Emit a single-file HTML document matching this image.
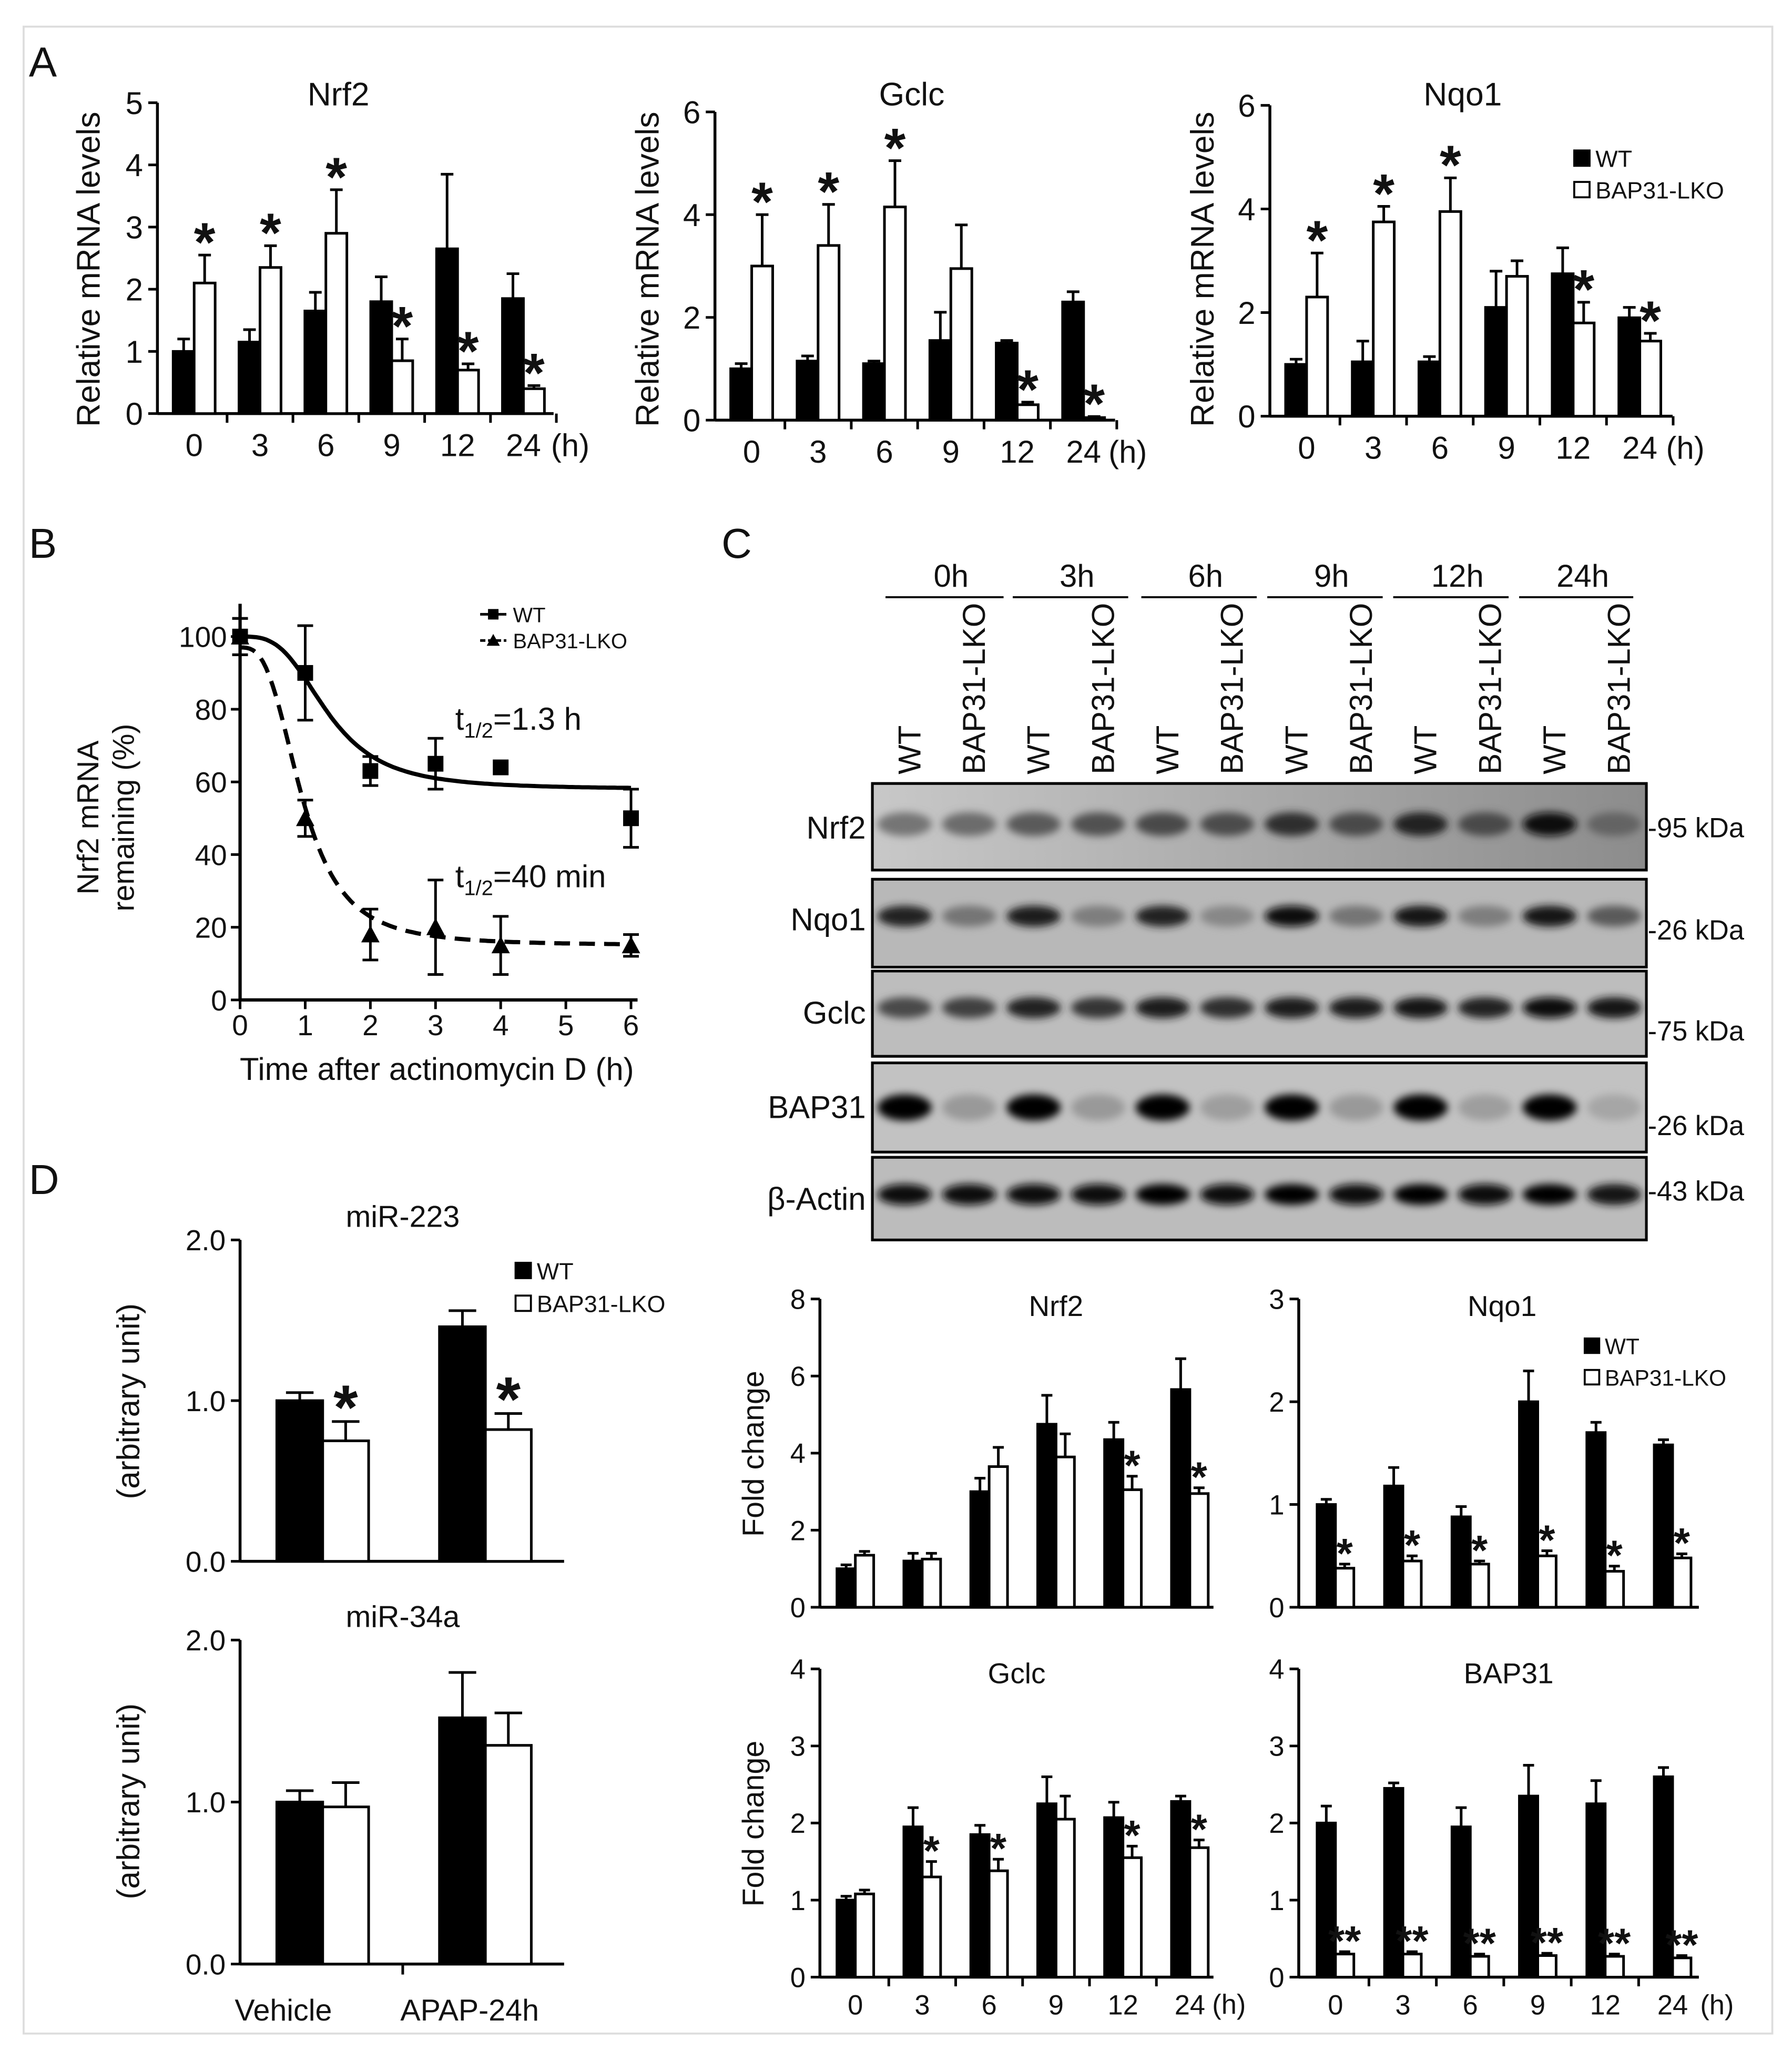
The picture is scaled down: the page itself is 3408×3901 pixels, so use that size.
<!DOCTYPE html>
<html><head><meta charset="utf-8"><style>
html,body{margin:0;padding:0;background:#fff}
svg{display:block}
text{font-family:"Liberation Sans",Arial,sans-serif;fill:#111}
</style></head><body>
<svg id="fig" xmlns="http://www.w3.org/2000/svg" width="3408" height="3901" viewBox="0 0 1366 1563">
<defs>
<filter id="blur" x="-50%" y="-50%" width="200%" height="200%"><feGaussianBlur stdDeviation="3"/></filter>
</defs>
<rect x="18" y="20" width="1333" height="1530" fill="none" stroke="#ddd" stroke-width="1.5"/>
<text x="22" y="58" font-size="32">A</text>
<text x="22" y="425" font-size="32">B</text>
<text x="550" y="425" font-size="32">C</text>
<text x="22" y="910" font-size="32">D</text>
<g id="root"></g>
</svg>
<script>
// ---- data arrays ----
const hours = ["0","3","6","9","12","24"];
const aNrf2WT = [1.0,1.15,1.65,1.8,2.65,1.85];
const aNrf2WTerr = [0.2,0.2,0.3,0.4,1.2,0.4];
const aNrf2KO = [2.1,2.35,2.9,0.85,0.7,0.4];
const aNrf2KOerr = [0.45,0.35,0.7,0.35,0.1,0.05];
const aNrf2Star = ["*","*","*","*","*","*"];
const aGclcWT = [1.0,1.15,1.1,1.55,1.5,2.3];
const aGclcWTerr = [0.1,0.1,0.05,0.55,0.05,0.2];
const aGclcKO = [3.0,3.4,4.15,2.95,0.3,0.05];
const aGclcKOerr = [1.0,0.8,0.9,0.85,0.05,0.02];
const aGclcStar = ["*","*","*","","*","*"];
const aNqo1WT = [1.0,1.05,1.05,2.1,2.75,1.9];
const aNqo1WTerr = [0.1,0.4,0.1,0.7,0.5,0.2];
const aNqo1KO = [2.3,3.75,3.95,2.7,1.8,1.45];
const aNqo1KOerr = [0.85,0.3,0.65,0.3,0.4,0.15];
const aNqo1Star = ["*","*","*","","*","*"];
const cNrf2WT = [1.0,1.2,3.0,4.75,4.35,5.65];
const cNrf2WTerr = [0.1,0.2,0.35,0.75,0.45,0.8];
const cNrf2KO = [1.35,1.25,3.65,3.9,3.05,2.95];
const cNrf2KOerr = [0.1,0.15,0.5,0.6,0.35,0.15];
const cNrf2Star = ["","","","","*","*"];
const cNqo1WT = [1.0,1.18,0.88,2.0,1.7,1.58];
const cNqo1WTerr = [0.05,0.18,0.1,0.3,0.1,0.05];
const cNqo1KO = [0.38,0.45,0.42,0.5,0.35,0.48];
const cNqo1KOerr = [0.04,0.05,0.03,0.05,0.05,0.04];
const cNqo1Star = ["*","*","*","*","*","*"];
const cGclcWT = [1.0,1.95,1.85,2.25,2.07,2.28];
const cGclcWTerr = [0.05,0.25,0.12,0.35,0.2,0.07];
const cGclcKO = [1.08,1.3,1.38,2.05,1.55,1.68];
const cGclcKOerr = [0.05,0.2,0.15,0.3,0.15,0.1];
const cGclcStar = ["","*","*","","*","*"];
const cBapWT = [2.0,2.45,1.95,2.35,2.25,2.6];
const cBapWTerr = [0.22,0.07,0.25,0.4,0.3,0.12];
const cBapKO = [0.3,0.3,0.27,0.28,0.27,0.25];
const cBapKOerr = [0.03,0.03,0.03,0.03,0.03,0.03];
const cBapStar = ["**","**","**","**","**","**"];
const dGroups = ["Vehicle","APAP-24h"];
const d223WT = [1.0,1.46];
const d223WTerr = [0.05,0.1];
const d223KO = [0.75,0.82];
const d223KOerr = [0.12,0.1];
const d223Star = ["*","*"];
const d34WT = [1.0,1.52];
const d34WTerr = [0.07,0.28];
const d34KO = [0.97,1.35];
const d34KOerr = [0.15,0.2];
const d34Star = ["",""];
const bTimes = [0,1,2,3,4,6];
const bWT = [100,90,63,65,64,50];
const bWTerr = [5,13,4,7,0,8];
const bKO = [100,50,18,20,15,15];
const bKOerr = [5,5,7,13,8,3];
const bXTicks = [0,1,2,3,4,5,6];
const bYTicks = [0,20,40,60,80,100];
const blotRows = ["Nrf2","Nqo1","Gclc","BAP31","β-Actin"];
const blotKda = ["-95 kDa","-26 kDa","-75 kDa","-26 kDa","-43 kDa"];
const blotNrf2 = [0.35,0.4,0.5,0.55,0.6,0.58,0.75,0.6,0.8,0.6,0.95,0.45];
const blotNqo1 = [0.8,0.35,0.85,0.3,0.8,0.25,0.95,0.35,0.9,0.3,0.9,0.5];
const blotGclc = [0.6,0.65,0.8,0.7,0.85,0.75,0.85,0.85,0.9,0.8,0.95,0.9];
const blotBap = [0.98,0.15,0.98,0.15,0.98,0.12,0.98,0.15,0.98,0.12,0.98,0.08];
const blotActin = [0.95,0.92,0.95,0.92,0.97,0.95,0.97,0.93,0.97,0.93,0.97,0.9];
const timeHeads = ["0h","3h","6h","9h","12h","24h"];

const NS="http://www.w3.org/2000/svg";
const root=document.getElementById('root');
function el(tag,attrs,parent,txt){const e=document.createElementNS(NS,tag);for(const k in attrs)e.setAttribute(k,attrs[k]);if(txt!==undefined)e.textContent=txt;(parent||root).appendChild(e);return e;}

function barChart(o){
  const g=el('g',{});
  
  
  const y=v=>o.y0-(v/o.ymax)*(o.y0-o.ytop);
  const fs=o.fs||22;
  const ax=el('line',{x1:o.x0,y1:o.ytop,x2:o.x0,y2:o.y0,stroke:'#000','stroke-width':2.2},g);
  
  
  const xa=el('line',{x1:o.x0,y1:o.y0,x2:o.xend,y2:o.y0,stroke:'#000','stroke-width':2.2},g);
  
  
  o.ticks.forEach(t=>{
    el('line',{x1:o.x0-7,x2:o.x0,y1:y(t),y2:y(t),stroke:'#000','stroke-width':2},g);
    const tl=el('text',{x:o.x0-11,y:y(t)+fs*0.36,'font-size':fs,'text-anchor':'end'},g,o.tickFmt?o.tickFmt(t):String(t));
    
    
  });
  const n=o.cats.length;
  o.centers.forEach((cx,i)=>{
    if(o.sepTicks){const sx=cx+(o.step/2);if(i<n-1||o.lastTick)el('line',{x1:sx,x2:sx,y1:o.y0,y2:o.y0+7,stroke:'#000','stroke-width':2},g);}
    if(o.showX){
      const tl=el('text',{x:cx,y:o.y0+fs*1.35,'font-size':fs,'text-anchor':'middle'},g,o.cats[i]);
      
      
    }
    const bw=o.bw;
    [[o.wt,o.wterr,'#000',cx-bw],[o.ko,o.koerr,'#fff',cx]].forEach((s,k)=>{
      const v=s[0][i],e=s[1][i],bx=s[3];
      const top=y(v+e);
      el('line',{x1:bx+bw/2,x2:bx+bw/2,y1:top,y2:y(v),stroke:'#000','stroke-width':2},g);
      el('line',{x1:bx+bw/2-bw*0.3,x2:bx+bw/2+bw*0.3,y1:top,y2:top,stroke:'#000','stroke-width':2},g);
      const r=el('rect',{x:bx,y:y(v),width:bw,height:o.y0-y(v),fill:s[2],stroke:'#000','stroke-width':2},g);
      
      
      if(k===1&&o.stars[i]){
        const st=el('text',{x:bx+bw/2,y:top-3+o.starFs*0.18,'font-size':o.starFs,'text-anchor':'middle','font-weight':'bold'},g,o.stars[i]);
        
        
      }
    });
  });
  if(o.unit){const u=el('text',{x:o.unitX,y:o.y0+fs*1.35,'font-size':fs},g,'(h)');}
  if(o.title){const t=el('text',{x:o.titleX,y:o.titleY,'font-size':fs+1,'text-anchor':'middle'},g,o.title);}
  if(o.ylabel){const t=el('text',{x:0,y:0,'font-size':o.ylfs||fs+2,'text-anchor':'middle',transform:`translate(${o.ylx},${o.yly}) rotate(-90)`},g,o.ylabel);}
  return g;
}
function legend(x,y,fs,gap,name){
  const g=el('g',{});
  
  
  el('rect',{x:x,y:y-fs*0.7,width:fs*0.65,height:fs*0.65,fill:'#000',stroke:'#000','stroke-width':1.5},g);
  el('text',{x:x+fs*0.9,y:y,'font-size':fs},g,'WT');
  el('rect',{x:x,y:y+gap-fs*0.7,width:fs*0.65,height:fs*0.65,fill:'#fff',stroke:'#000','stroke-width':1.5},g);
  el('text',{x:x+fs*0.9,y:y+gap,'font-size':fs},g,'BAP31-LKO');
}
function centers(a,b){return hours.map((_,i)=>a+i*(b-a)/5);}

// Panel A
barChart({name:'chart-a-nrf2',x0:120,y0:315,ytop:78,ymax:5,xend:422,ticks:[0,1,2,3,4,5],cats:hours,centers:centers(148,399),step:50.2,bw:16,
 wt:aNrf2WT,wterr:aNrf2WTerr,ko:aNrf2KO,koerr:aNrf2KOerr,stars:aNrf2Star,starFs:42,showX:true,sepTicks:true,lastTick:true,unit:true,unitX:420,
 title:'Nrf2',titleX:258,titleY:80,ylabel:'Relative mRNA levels',ylx:76,yly:205,ylfs:25,fs:24});
barChart({name:'chart-a-gclc',x0:545,y0:320,ytop:85,ymax:6,xend:850,ticks:[0,2,4,6],cats:hours,centers:centers(573,826),step:50.6,bw:16,
 wt:aGclcWT,wterr:aGclcWTerr,ko:aGclcKO,koerr:aGclcKOerr,stars:aGclcStar,starFs:42,showX:true,sepTicks:true,lastTick:true,unit:true,unitX:845,
 title:'Gclc',titleX:695,titleY:80,ylabel:'Relative mRNA levels',ylx:502,yly:205,ylfs:25,fs:24});
barChart({name:'chart-a-nqo1',x0:968,y0:317,ytop:80,ymax:6,xend:1275,ticks:[0,2,4,6],cats:hours,centers:centers(996,1250),step:50.8,bw:16,
 wt:aNqo1WT,wterr:aNqo1WTerr,ko:aNqo1KO,koerr:aNqo1KOerr,stars:aNqo1Star,starFs:42,showX:true,sepTicks:true,lastTick:true,unit:true,unitX:1270,
 title:'Nqo1',titleX:1115,titleY:80,ylabel:'Relative mRNA levels',ylx:925,yly:205,ylfs:25,fs:24});
legend(1200,127,18,24,'legend-a');

// Panel C bar charts
barChart({name:'chart-c-nrf2',x0:625,y0:1225,ytop:990,ymax:8,xend:925,ticks:[0,2,4,6,8],cats:hours,centers:centers(652,907),step:51,bw:14,
 wt:cNrf2WT,wterr:cNrf2WTerr,ko:cNrf2KO,koerr:cNrf2KOerr,stars:cNrf2Star,starFs:32,showX:false,sepTicks:false,
 title:'Nrf2',titleX:805,titleY:1003,ylabel:'Fold change',ylx:582,yly:1108,fs:21});
barChart({name:'chart-c-nqo1',x0:990,y0:1225,ytop:990,ymax:3,xend:1295,ticks:[0,1,2,3],cats:hours,centers:centers(1018,1275),step:51,bw:14,
 wt:cNqo1WT,wterr:cNqo1WTerr,ko:cNqo1KO,koerr:cNqo1KOerr,stars:cNqo1Star,starFs:32,showX:false,sepTicks:false,
 title:'Nqo1',titleX:1145,titleY:1003,fs:21});
legend(1208,1032,17,24,'legend-c');
barChart({name:'chart-c-gclc',x0:625,y0:1507,ytop:1272,ymax:4,xend:925,ticks:[0,1,2,3,4],cats:hours,centers:centers(652,907),step:51,bw:14,
 wt:cGclcWT,wterr:cGclcWTerr,ko:cGclcKO,koerr:cGclcKOerr,stars:cGclcStar,starFs:32,showX:true,sepTicks:true,lastTick:false,
 title:'Gclc',titleX:775,titleY:1283,ylabel:'Fold change',ylx:582,yly:1390,fs:21});
barChart({name:'chart-c-bap31',x0:990,y0:1507,ytop:1272,ymax:4,xend:1295,ticks:[0,1,2,3,4],cats:hours,centers:centers(1018,1275),step:51,bw:14,
 wt:cBapWT,wterr:cBapWTerr,ko:cBapKO,koerr:cBapKOerr,stars:cBapStar,starFs:32,showX:true,sepTicks:true,lastTick:false,unit:true,unitX:1296,
 title:'BAP31',titleX:1150,titleY:1283,fs:21});
{const t=el('text',{x:924,y:1535,'font-size':21},root,'(h)');}

// Panel D
const dFmt=t=>t.toFixed(1);
barChart({name:'chart-d-mir223',x0:183,y0:1190,ytop:945,ymax:2,xend:430,ticks:[0,1,2],tickFmt:dFmt,cats:dGroups,centers:[246,370],step:124,bw:35,
 wt:d223WT,wterr:d223WTerr,ko:d223KO,koerr:d223KOerr,stars:d223Star,starFs:48,showX:false,sepTicks:false,
 title:'miR-223',titleX:307,titleY:935,ylabel:'(arbitrary unit)',ylx:106,yly:1068,fs:22});
barChart({name:'chart-d-mir34a',x0:183,y0:1497,ytop:1250,ymax:2,xend:430,ticks:[0,1,2],tickFmt:dFmt,cats:dGroups,centers:[246,370],step:124,bw:35,
 wt:d34WT,wterr:d34WTerr,ko:d34KO,koerr:d34KOerr,stars:d34Star,starFs:48,showX:false,sepTicks:false,
 title:'miR-34a',titleX:307,titleY:1240,ylabel:'(arbitrary unit)',ylx:106,yly:1373,fs:22});
legend(393,975,18,25,'legend-d');
el('line',{x1:307,x2:307,y1:1497,y2:1505,stroke:'#000','stroke-width':2});
{const t=el('text',{x:216,y:1540,'font-size':23,'text-anchor':'middle'},root,'Vehicle');
 const t2=el('text',{x:358,y:1540,'font-size':23,'text-anchor':'middle'},root,'APAP-24h');}

// Panel B
(function(){
  const g=el('g',{});
  
  
  const x0=183,x6=481,y0=762,y100=485;
  const X=t=>x0+t*(x6-x0)/6, Y=v=>y0-v*(y0-y100)/100;
  el('line',{x1:x0,y1:y100-25,x2:x0,y2:y0,stroke:'#000','stroke-width':2.5},g);
  el('line',{x1:x0,y1:y0,x2:x6+5,y2:y0,stroke:'#000','stroke-width':2.5},g);
  bYTicks.forEach(t=>{el('line',{x1:x0-7,x2:x0,y1:Y(t),y2:Y(t),stroke:'#000','stroke-width':2},g);
    const l=el('text',{x:x0-10,y:Y(t)+8,'font-size':22,'text-anchor':'end'},g,String(t));});
  bXTicks.forEach(t=>{el('line',{x1:X(t),x2:X(t),y1:y0,y2:y0+7,stroke:'#000','stroke-width':2},g);
    const l=el('text',{x:X(t),y:y0+27,'font-size':22,'text-anchor':'middle'},g,String(t));});
  let p1='',p2='';
  for(let t=0;t<=6.001;t+=0.05){
    const w=58+42/(1+Math.pow(t/1.35,3.2));
    const k=15+82/(1+Math.pow(t/0.95,3.0));
    p1+=(p1?'L':'M')+X(t).toFixed(1)+','+Y(w).toFixed(1);
    p2+=(p2?'L':'M')+X(t).toFixed(1)+','+Y(k).toFixed(1);
  }
  const c1=el('path',{d:p1,fill:'none',stroke:'#000','stroke-width':3.2},g);
  const c2=el('path',{d:p2,fill:'none',stroke:'#000','stroke-width':3.2,'stroke-dasharray':'12,7'},g);
  bTimes.forEach((t,i)=>{
    [[bWT,bWTerr,'sq'],[bKO,bKOerr,'tri']].forEach(s=>{
      const v=s[0][i],e=s[1][i],cx=X(t),cy=Y(v);
      if(e>0){el('line',{x1:cx,x2:cx,y1:Y(v+e),y2:Y(v-e),stroke:'#000','stroke-width':2},g);
      el('line',{x1:cx-6,x2:cx+6,y1:Y(v+e),y2:Y(v+e),stroke:'#000','stroke-width':2},g);
      el('line',{x1:cx-6,x2:cx+6,y1:Y(v-e),y2:Y(v-e),stroke:'#000','stroke-width':2},g);}
      let m;
      if(s[2]==='sq'){m=el('rect',{x:cx-6,y:cy-6,width:12,height:12,fill:'#000'},g);}
      else{m=el('polygon',{points:`${cx},${cy-7} ${cx-7},${cy+6} ${cx+7},${cy+6}`,fill:'#000'},g);}
      
    });
  });
  el('text',{x:333,y:823,'font-size':24,'text-anchor':'middle'},g,'Time after actinomycin D (h)');
  el('text',{x:0,y:0,'font-size':23,'text-anchor':'middle',transform:'translate(75,623) rotate(-90)'},g,'Nrf2 mRNA');
  el('text',{x:0,y:0,'font-size':23,'text-anchor':'middle',transform:'translate(102,623) rotate(-90)'},g,'remaining (%)');
  el('line',{x1:366,x2:386,y1:468,y2:468,stroke:'#000','stroke-width':2},g);el('rect',{x:372,y:464,width:8,height:8,fill:'#000'},g);
  el('text',{x:391,y:474,'font-size':16},g,'WT');
  el('line',{x1:366,x2:386,y1:488,y2:488,stroke:'#000','stroke-width':2,'stroke-dasharray':'4,2'},g);el('polygon',{points:'376,483 371,492 381,492',fill:'#000'},g);
  el('text',{x:391,y:494,'font-size':16},g,'BAP31-LKO');
  const a1=el('text',{x:347,y:556,'font-size':24},g);a1.innerHTML='t<tspan font-size="16" dy="6">1/2</tspan><tspan dy="-6">=1.3 h</tspan>';
  const a2=el('text',{x:347,y:676,'font-size':24},g);a2.innerHTML='t<tspan font-size="16" dy="6">1/2</tspan><tspan dy="-6">=40 min</tspan>';
})();

// Panel C blot
(function(){
  const g=el('g',{});
  
  
  const bx=665,bw=590,lane=bw/12;
  const heads=[[675,765],[772,860],[870,958],[966,1054],[1062,1150],[1158,1245]];
  timeHeads.forEach((h,i)=>{const[a,b]=heads[i];el('line',{x1:a,x2:b,y1:455,y2:455,stroke:'#000','stroke-width':1.5},g);
    el('text',{x:(a+b)/2+5,y:447,'font-size':24,'text-anchor':'middle'},g,h);});
  for(let i=0;i<12;i++){const cx=bx+lane*(i+0.5)+3;
    el('text',{x:0,y:0,'font-size':24,transform:`translate(${cx+9},590) rotate(-90)`},g,i%2?'BAP31-LKO':'WT');}
  const labelCy=[630,700,771,843,913];
  const kdaCy=[630,708,785,857,907];
  const rows=[[597,663,blotNrf2,'#b4b4b4',0.47],[670,737,blotNqo1,'#b8b8b8',0.42],[740,805,blotGclc,'#bdbdbd',0.43],[810,878,blotBap,'#c2c2c2',0.5],[882,945,blotActin,'#bcbcbc',0.45]];
  const gb=el('linearGradient',{id:'nrfbg',x1:0,x2:1,y1:0,y2:0},document.querySelector('defs'));
  el('stop',{offset:0,'stop-color':'#c8c8c8'},gb);el('stop',{offset:1,'stop-color':'#8c8c8c'},gb);
  rows.forEach((r,ri)=>{
    const [y1,y2,vals,bg,frac]=r;
    const rr=el('rect',{x:bx,y:y1,width:bw,height:y2-y1,fill:ri===0?'url(#nrfbg)':bg,stroke:'#000','stroke-width':2},g);
    
    
    const by=y1+(y2-y1)*frac;
    vals.forEach((v,i)=>{
      const cx=bx+lane*(i+0.5);const c=Math.round(180*(1-v));
      el('ellipse',{cx:cx,cy:by,rx:lane*0.42,ry:ri===0?9:(ri===3?10:8),fill:`rgb(${c},${c},${c})`,filter:'url(#blur)'},g);
    });
    el('rect',{x:bx,y:y1,width:bw,height:y2-y1,fill:'none',stroke:'#000','stroke-width':2},g);
    const l=el('text',{x:660,y:labelCy[ri]+9,'font-size':24,'text-anchor':'end'},g,blotRows[ri]);
    
    const k=el('text',{x:1256,y:kdaCy[ri]+8,'font-size':21},g,blotKda[ri]);
    
  });
})();
</script>
</body></html>
